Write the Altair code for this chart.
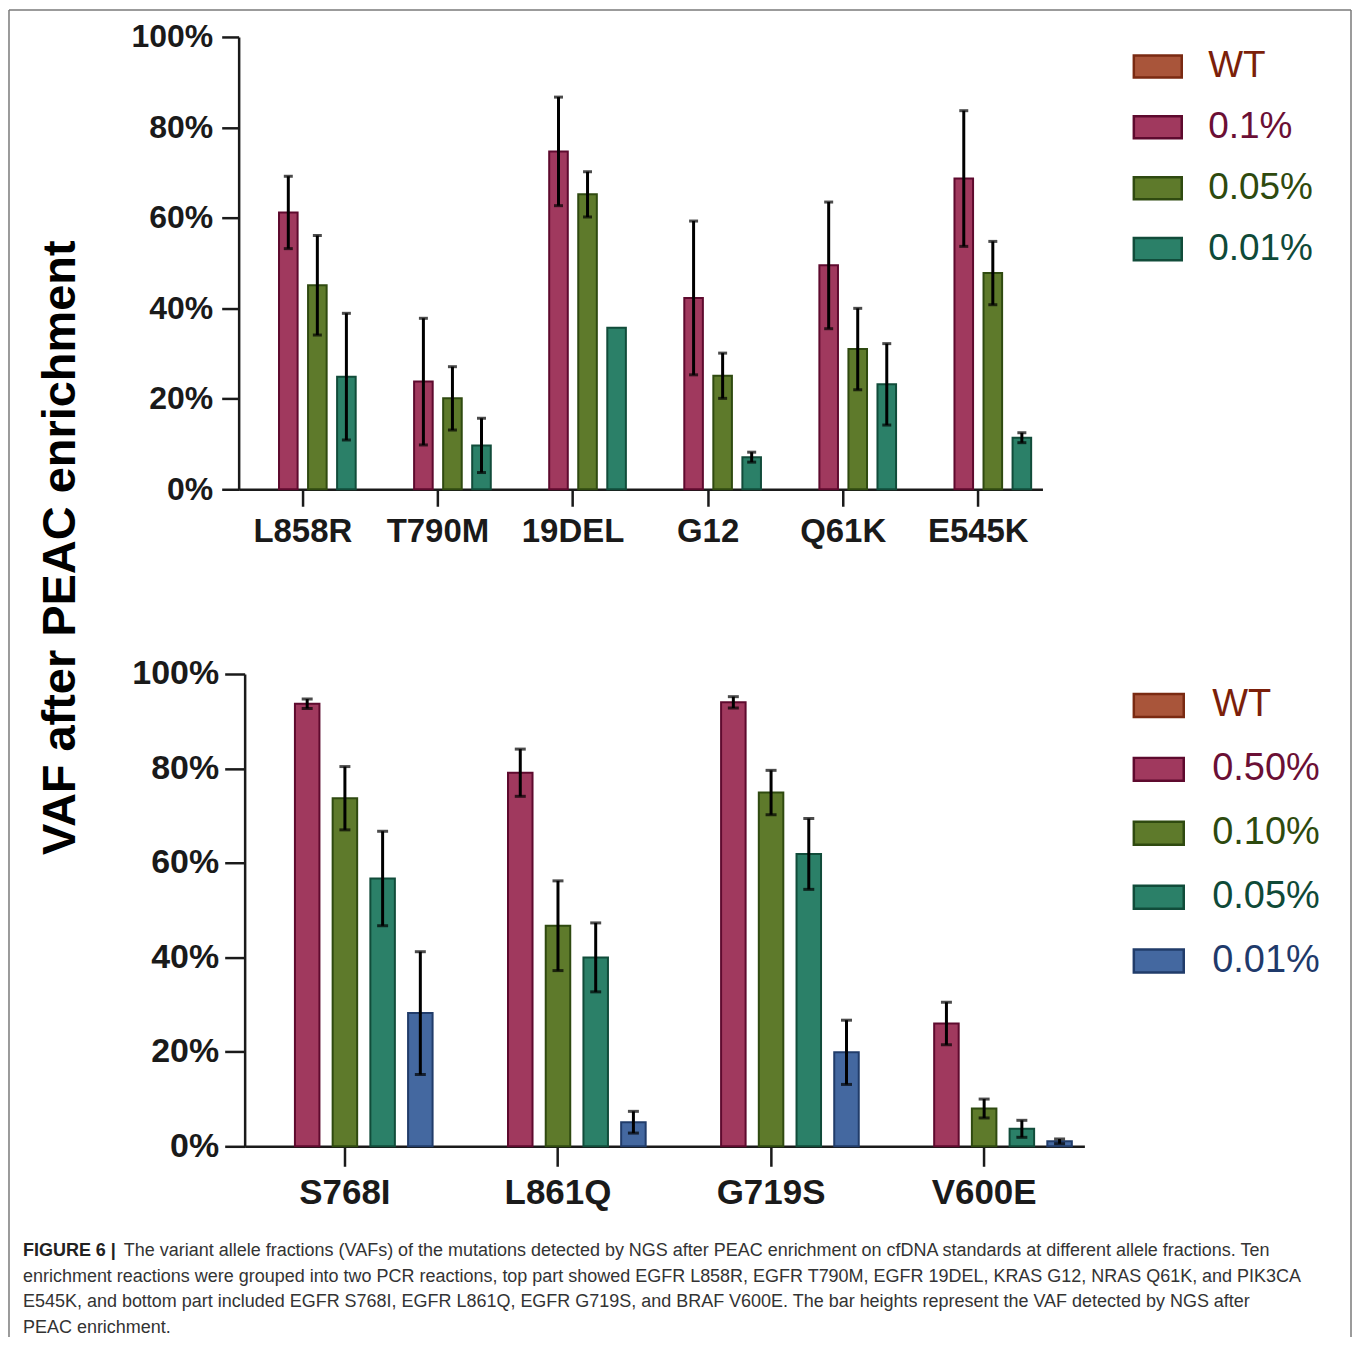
import altair as alt
import pandas as pd

# ---------------- data ----------------
top_mutations = ["L858R", "T790M", "19DEL", "G12", "Q61K", "E545K"]
top_series = ["WT", "0.1%", "0.05%", "0.01%"]
top_vaf_01 = [61.2, 23.8, 74.7, 42.3, 49.5, 68.7]
top_err_01 = [8.0, 14.0, 12.0, 17.0, 14.0, 15.0]
top_vaf_005 = [45.1, 20.1, 65.2, 25.1, 31.0, 47.8]
top_err_005 = [11.0, 7.0, 5.0, 5.0, 9.0, 7.0]
top_vaf_001 = [24.9, 9.7, 35.7, 7.1, 23.2, 11.4]
top_err_001 = [14.0, 6.0, None, 1.1, 9.0, 1.1]

bot_mutations = ["S768I", "L861Q", "G719S", "V600E"]
bot_series = ["WT", "0.50%", "0.10%", "0.05%", "0.01%"]
bot_vaf_050 = [93.7, 79.1, 94.0, 26.0]
bot_err_050 = [1.0, 5.0, 1.2, 4.5]
bot_vaf_010 = [73.7, 46.7, 74.9, 8.0]
bot_err_010 = [6.7, 9.5, 4.7, 2.0]
bot_vaf_005 = [56.7, 40.0, 61.9, 3.7]
bot_err_005 = [10.0, 7.3, 7.5, 1.8]
bot_vaf_001 = [28.2, 5.1, 19.9, 1.05]
bot_err_001 = [13.0, 2.3, 6.8, 0.5]

top_fill = ["#a9553a", "#a0395e", "#5e7a2b", "#2b8068"]
top_stroke = ["#7a2a12", "#5e0a2e", "#2f4a10", "#114c3a"]
top_label_col = ["#7b1f0a", "#6b0f35", "#2e4a0e", "#0f4a38"]
bot_fill = ["#a9553a", "#a0395e", "#5e7a2b", "#2b8068", "#4468a0"]
bot_stroke = ["#7a2a12", "#5e0a2e", "#2f4a10", "#114c3a", "#213c6a"]
bot_label_col = ["#7b1f0a", "#6b0f35", "#2e4a0e", "#0f4a38", "#1f3a6b"]

y_title = "VAF after PEAC enrichment"
caption_bold = "FIGURE 6 |"
caption_lines = [
    "The variant allele fractions (VAFs) of the mutations detected by NGS after PEAC enrichment on cfDNA standards at different allele fractions. Ten",
    "enrichment reactions were grouped into two PCR reactions, top part showed EGFR L858R, EGFR T790M, EGFR 19DEL, KRAS G12, NRAS Q61K, and PIK3CA",
    "E545K, and bottom part included EGFR S768I, EGFR L861Q, EGFR G719S, and BRAF V600E. The bar heights represent the VAF detected by NGS after",
    "PEAC enrichment.",
]

FONT = "Liberation Sans"
INK = "#1a1a1a"


def make_df(mutations, series_names, vals, errs):
    rows = []
    for s, v, e in zip(series_names, vals, errs):
        for m, vv, ee in zip(mutations, v, e):
            lo = None if ee is None else (vv - ee) / 100
            hi = None if ee is None else (vv + ee) / 100
            rows.append({"mutation": m, "series": s, "vaf": vv / 100, "lo": lo, "hi": hi})
    return pd.DataFrame(rows)


top_df = make_df(top_mutations, top_series[1:],
                 [top_vaf_01, top_vaf_005, top_vaf_001],
                 [top_err_01, top_err_005, top_err_001])
bot_df = make_df(bot_mutations, bot_series[1:],
                 [bot_vaf_050, bot_vaf_010, bot_vaf_005, bot_vaf_001],
                 [bot_err_050, bot_err_010, bot_err_005, bot_err_001])


def color_expr(series, colors):
    expr = "'" + colors[-1] + "'"
    for s, c in reversed(list(zip(series[:-1], colors[:-1]))):
        expr = f"datum.value === '{s}' ? '{c}' : ({expr})"
    return expr


def panel(df, mutations, series, fills, strokes, label_cols, width, height,
          x_range, pad_inner, pad_outer, sub_inner, y_offset, tick_size,
          ylab_size, ylab_pad, xlab_size, xlab_pad, leg, title_spec, cap):
    x = alt.X("mutation:N", sort=mutations, title=None,
              scale=alt.Scale(domain=mutations, range=x_range,
                              paddingInner=pad_inner, paddingOuter=pad_outer),
              axis=alt.Axis(labelAngle=0, labelFont=FONT, labelFontWeight="bold",
                            labelFontSize=xlab_size, labelColor=INK, labelPadding=xlab_pad,
                            tickSize=tick_size, tickWidth=2.5, tickColor=INK,
                            domainColor=INK, domainWidth=2.5, grid=False))
    xoff = alt.XOffset("series:N",
                       scale=alt.Scale(domain=series, paddingInner=sub_inner,
                                       paddingOuter=sub_inner / 2))
    yaxis_kw = dict(format=".0%", values=[0, 0.2, 0.4, 0.6, 0.8, 1.0],
                    labelFont=FONT, labelFontWeight="bold", labelFontSize=ylab_size,
                    labelColor=INK, labelPadding=ylab_pad, tickSize=tick_size,
                    tickWidth=2.5, tickColor=INK, domainColor=INK, domainWidth=2.5,
                    grid=False, offset=y_offset)
    if title_spec is not None:
        yaxis_kw.update(titleFont=FONT, titleFontWeight="bold", titleFontSize=47,
                        titleColor="#000000", titleAngle=270, titleAlign="center",
                        titleBaseline="middle", titleX=title_spec[0], titleY=title_spec[1])
        ytitle = y_title
    else:
        ytitle = None
    yscale = alt.Scale(domain=[0, 1], nice=False)

    def Y(field):
        return alt.Y(f"{field}:Q", scale=yscale, axis=alt.Axis(**yaxis_kw), title=ytitle)

    legend = alt.Legend(title=None, orient="none", legendX=leg[0], legendY=leg[1],
                        direction="vertical", padding=0,
                        symbolType="M-1,-0.46L1,-0.46L1,0.46L-1,0.46Z",
                        symbolSize=leg[2] ** 2, symbolStrokeWidth=2.5,
                        labelFont=FONT, labelFontSize=leg[3], labelOffset=leg[4],
                        rowPadding=leg[5], labelLimit=400,
                        labelColor=alt.ExprRef(color_expr(series, label_cols)))

    base = alt.Chart(df)
    bars = base.mark_bar(strokeWidth=2).encode(
        x=x, xOffset=xoff, y=Y("vaf"),
        fill=alt.Fill("series:N", scale=alt.Scale(domain=series, range=fills), legend=legend),
        stroke=alt.Stroke("series:N", scale=alt.Scale(domain=series, range=strokes), legend=legend),
    )
    errs = base.transform_filter("isValid(datum.lo)")
    rule = errs.mark_rule(color="#000000", strokeWidth=3).encode(
        x=x, xOffset=xoff, y=Y("lo"), y2="hi:Q")
    cap_hi = errs.mark_tick(color="#000000", thickness=3, size=cap).encode(
        x=x, xOffset=xoff, y=Y("hi"))
    cap_lo = errs.mark_tick(color="#000000", thickness=3, size=cap).encode(
        x=x, xOffset=xoff, y=Y("lo"))
    return alt.layer(bars, rule, cap_hi, cap_lo).properties(width=width, height=height)


top = panel(top_df, top_mutations, top_series, top_fill, top_stroke, top_label_col,
            width=805, height=453, x_range=[0, 805], pad_inner=0.14, pad_outer=0.045,
            sub_inner=0.36, y_offset=0, tick_size=17, ylab_size=32, ylab_pad=9,
            xlab_size=33, xlab_pad=9, leg=(895, 4, 48, 37, 25, 17),
            title_spec=(-178, 511), cap=9)

bottom = panel(bot_df, bot_mutations, bot_series, bot_fill, bot_stroke, bot_label_col,
               width=847, height=473, x_range=[6, 847], pad_inner=0.115, pad_outer=0.028,
               sub_inner=0.35, y_offset=-6, tick_size=20, ylab_size=34, ylab_pad=6,
               xlab_size=35, xlab_pad=9, leg=(895, 5, 50, 38, 27, 18),
               title_spec=None, cap=11)

# ---------------- caption + frame ----------------
dummy = pd.DataFrame({"k": [0]})
cap_layers = [
    alt.Chart(dummy).mark_text(text=caption_bold, font=FONT, fontWeight="bold",
                               fontSize=18, color="#222222", align="left",
                               baseline="middle").encode(x=alt.value(-216), y=alt.value(-80))
]
line_x = [-115, -216, -216, -216]
line_y = [-80, -54, -29, -3]
for t, lx, ly in zip(caption_lines, line_x, line_y):
    cap_layers.append(
        alt.Chart(dummy).mark_text(text=t, font=FONT, fontSize=18, color="#333333",
                                   align="left", baseline="middle")
        .encode(x=alt.value(lx), y=alt.value(ly)))
frame_col = "#7a7a7a"
cap_layers += [
    alt.Chart(dummy).mark_rule(color=frame_col, strokeWidth=1.5).encode(
        x=alt.value(-230), y=alt.value(-1323), y2=alt.value(6)),
    alt.Chart(dummy).mark_rule(color=frame_col, strokeWidth=1.5).encode(
        x=alt.value(-230), x2=alt.value(1114), y=alt.value(-1323)),
    alt.Chart(dummy).mark_rule(color=frame_col, strokeWidth=1.5).encode(
        x=alt.value(1114), y=alt.value(-1323), y2=alt.value(6)),
]
caption = alt.layer(*cap_layers).properties(width=1, height=1)

chart = (
    alt.vconcat(top, bottom, caption, spacing=185, bounds="flush")
    .resolve_scale(fill="independent", stroke="independent", xOffset="independent",
                   x="independent", y="independent")
    .properties(padding=0, background="white")
    .configure_view(stroke=None)
)

chart.save("out.html", embed_options={"renderer": "svg", "actions": False})
